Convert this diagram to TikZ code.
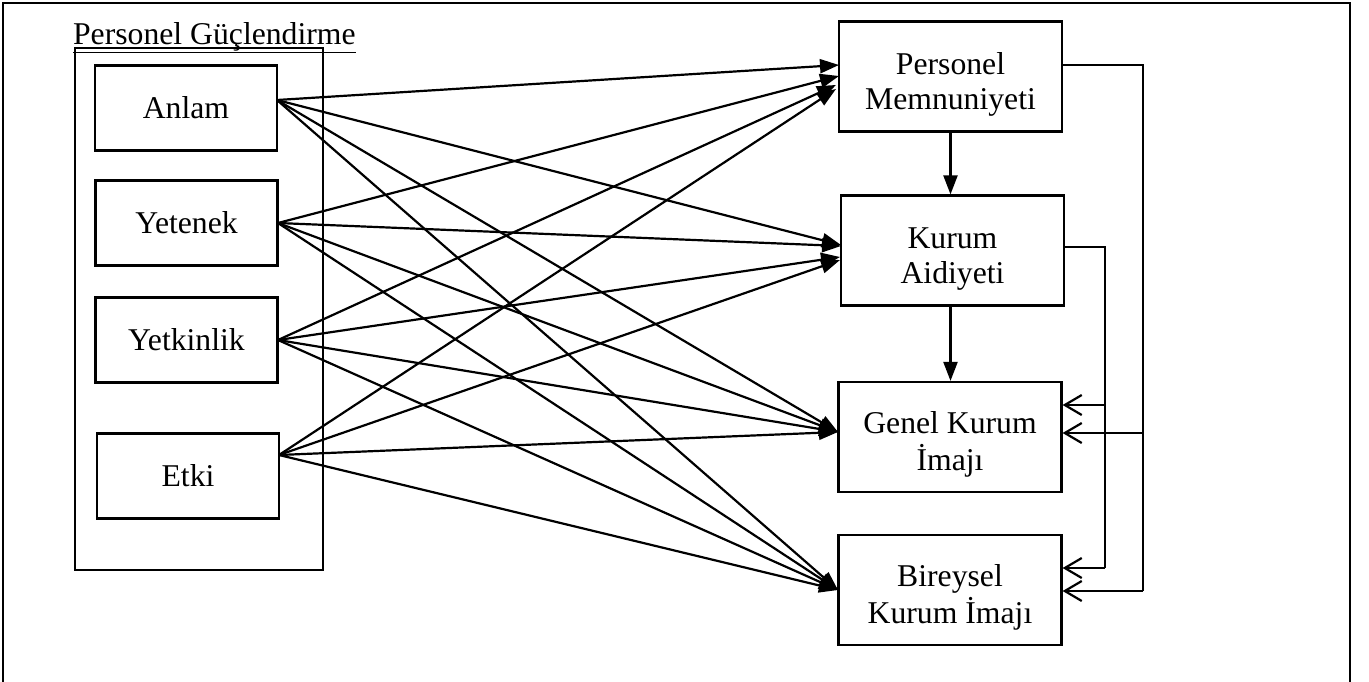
\documentclass[tikz,border=0pt]{standalone}
\usepackage{fontspec}
\setmainfont{Liberation Serif}
\usetikzlibrary{arrows.meta}
\newcommand{\lowtext}[1]{\raisebox{-8pt}[\height][\depth]{\begin{tabular}{@{}c@{}}#1\end{tabular}}}
\begin{document}
\begin{tikzpicture}[x=1pt,y=-1pt,line width=2.2pt,
  lbox/.style={draw,line width=2.2pt,minimum width=182pt,minimum height=85pt,inner sep=0pt,font=\fontsize{31.7}{35}\selectfont},
  rbox/.style={draw,line width=2.2pt,minimum width=223pt,minimum height=110pt,inner sep=0pt,align=center,font=\fontsize{31.7}{35}\selectfont},
  farrow/.style={-{Triangle[length=19pt,width=14pt]},line width=2.2pt},
  oarrow/.style={-{Straight Barb[length=17pt,width=20pt,line width=2.2pt]},line width=2.2pt}]
\useasboundingbox (0,0) rectangle (1369,681);
% frame (bottom edge outside)
\draw[line width=2.4pt] (3,690) -- (3,3) -- (1350,3) -- (1350,690);
% group label and box
\node[anchor=base west,inner sep=0pt,font=\fontsize{31.7}{35}\selectfont] (lbl) at (72,44) {\underline{Personel Güçlendirme}};
\draw (75,48) rectangle (323,570);
% left boxes
\node[lbox] (anlam) at (186,108) {Anlam};
\node[lbox] (yetenek) at (186.5,223) {Yetenek};
\node[lbox] (yetkinlik) at (186.5,340) {Yetkinlik};
\node[lbox] (etki) at (188,476) {Etki};
% right boxes
\node[rbox] (pm) at (950.5,76.5) {\lowtext{Personel\\Memnuniyeti}};
\node[rbox] (ka) at (952.5,250.5) {\lowtext{Kurum\\Aidiyeti}};
\node[rbox] (gki) at (950,437) {\lowtext{Genel Kurum\\İmajı}};
\node[rbox] (bki) at (950,590) {\lowtext{Bireysel\\Kurum İmajı}};
% sources
\coordinate (sA) at (277,100);
\coordinate (sY) at (278,223);
\coordinate (sK) at (278,340);
\coordinate (sE) at (279,455);
% targets
\coordinate (pm1) at (839,65);
\coordinate (pm2) at (839,76);
\coordinate (pm3) at (836,85);
\coordinate (pm4) at (836,89);
\coordinate (ka1) at (841,245);
\coordinate (ka2) at (841,246);
\coordinate (ka3) at (840,257);
\coordinate (ka4) at (840,260);
\coordinate (g) at (838,432);
\coordinate (b) at (838,590);
\draw[farrow] (sA) -- (pm1);
\draw[farrow] (sY) -- (pm2);
\draw[farrow] (sK) -- (pm3);
\draw[farrow] (sE) -- (pm4);
\draw[farrow] (sA) -- (ka1);
\draw[farrow] (sY) -- (ka2);
\draw[farrow] (sK) -- (ka3);
\draw[farrow] (sE) -- (ka4);
\foreach \s in {sA,sY,sK,sE}{
  \draw[farrow] (\s) -- (g);
  \draw[farrow] (\s) -- (b);
}
% vertical arrows
\draw[farrow] (pm.south) -- (pm.south |- ka.north);
\draw[farrow] (ka.south -| pm.south) -- (gki.north -| pm.south);
% right connectors
\coordinate (o1) at (1143,65);
\coordinate (o2) at (1143,433);
\coordinate (o3) at (1143,591);
\coordinate (i1) at (1105,247);
\coordinate (i2) at (1105,405);
\coordinate (i3) at (1105,568);
\draw (pm.east |- o1) -- (o1) -- (o3);
\draw[oarrow] (o2) -- (gki.east |- o2);
\draw[oarrow] (o3) -- (bki.east |- o3);
\draw (ka.east |- i1) -- (i1) -- (i3);
\draw[oarrow] (i2) -- (gki.east |- i2);
\draw[oarrow] (i3) -- (bki.east |- i3);
\end{tikzpicture}
\end{document}
